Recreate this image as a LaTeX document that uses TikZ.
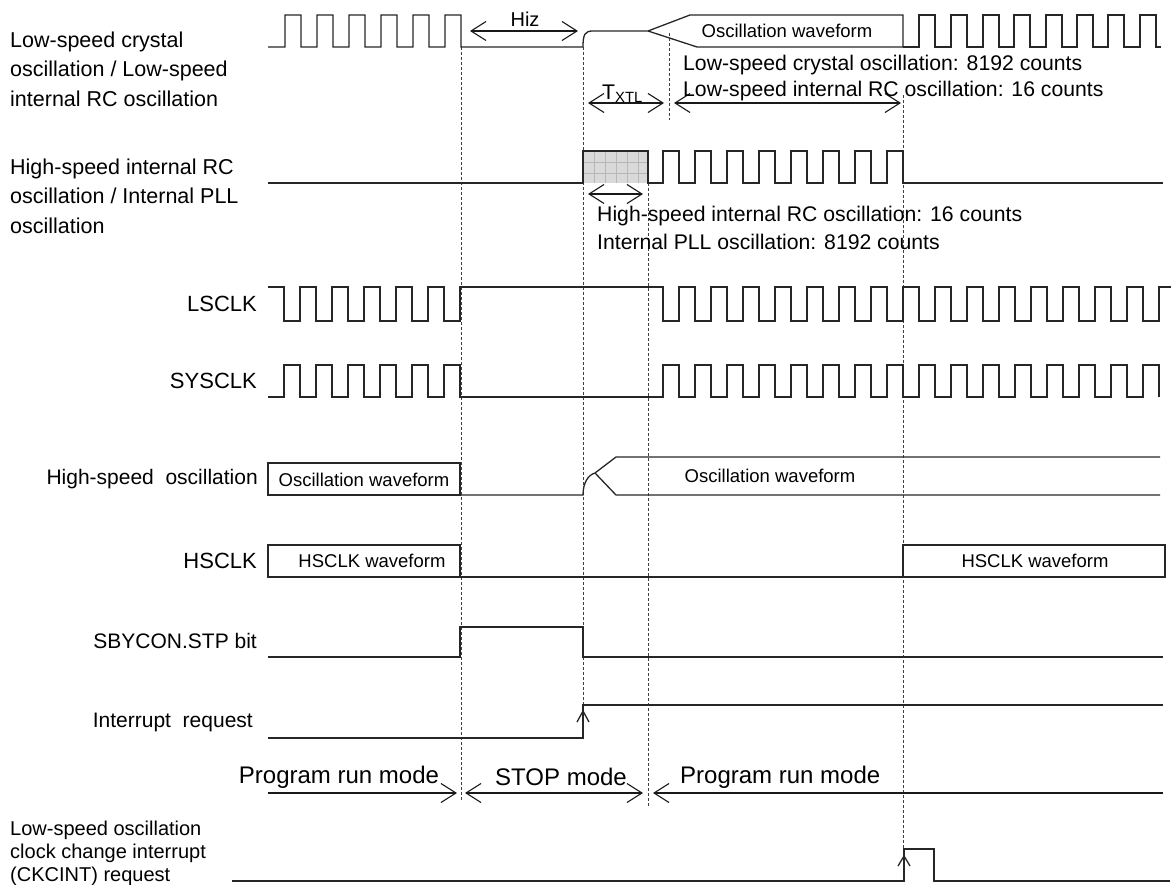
\documentclass[tikz,border=0pt]{standalone}
\usepackage{fontspec}
\setmainfont{Liberation Sans}
\usetikzlibrary{arrows.meta}

\tikzset{
  wave/.style={line width=1.3pt,black!85,line join=miter},
  guide/.style={densely dashed,line width=0.7pt,black!75},
  barb/.tip={Straight Barb[length=15pt,width=19pt,line width=1.1pt]},
  span/.style={line width=1.1pt,black!90},
  lbl/.style={anchor=west,align=left,inner sep=0pt,font=\fontsize{21.5}{29.5}\selectfont},
  sig/.style={anchor=east,inner sep=0pt,font=\fontsize{21}{25}\selectfont},
  note/.style={anchor=west,inner sep=0pt,font=\fontsize{21.2}{25}\selectfont},
  boxtxt/.style={inner sep=0pt,font=\fontsize{18.5}{22}\selectfont},
  modetxt/.style={inner sep=0pt,font=\fontsize{24}{28}\selectfont}
}

\begin{document}
\begin{tikzpicture}[x=1pt,y=-1pt]
\useasboundingbox (0,0) rectangle (1174,885);

% labels
\node[lbl] (lslbl) at (10,69) {Low-speed crystal\\oscillation / Low-speed\\internal RC oscillation};
\node[lbl] (hslbl) at (10,196) {High-speed internal RC\\oscillation / Internal PLL\\oscillation};
\node[sig,font=\fontsize{22}{26}\selectfont] (lsclk) at (257,304) {LSCLK};
\node[sig,font=\fontsize{22}{26}\selectfont] (sysclk) at (257,381) {SYSCLK};
\node[sig] (hsosc) at (258,479) {High-speed\ \ oscillation};
\node[sig,font=\fontsize{22}{26}\selectfont] (hsclk) at (257,561) {HSCLK};
\node[sig] (stp) at (257,641) {SBYCON.STP bit};
\node[sig] (irq) at (253,722) {Interrupt\ \ request};
\node[lbl,font=\fontsize{20}{23}\selectfont] (ckclbl) at (10,853) {Low-speed oscillation\\clock change interrupt\\(CKCINT) request};

% guides
\draw[guide] (461,47) -- (461,800);
\draw[guide] (583,47) -- (583,712);
\draw[guide] (669,33) -- (669,120);
\draw[guide] (648,183) -- (648,807);
\draw[guide] (903,95) -- (903,849);

% low-speed oscillation
\draw[wave] (268,47)
  \foreach \t in {285,317,349,381,413,445} {-- (\t,47) -- (\t,15) -- (\t+16,15) -- (\t+16,47)}
  -- (583,47) .. controls (583,34) and (585,31) .. (593,31) -- (648,31)
  -- (690,15) -- (903,15) -- (903,47) -- (697,47) -- (648,31);
\draw[wave] (903,47)
  \foreach \t in {919,951,983,1014,1046,1077,1108,1140} {-- (\t,47) -- (\t,15) -- (\t+16,15) -- (\t+16,47)}
  -- (1161,47);
\node[boxtxt] (lsosc) at (787,31) {Oscillation waveform};
\draw[span,barb-barb] (470,31) -- (578,31);
\node[modetxt,font=\fontsize{20}{24}\selectfont] (hiz) at (525,19) {Hiz};
\draw[span,barb-barb] (588,103) -- (664,103);
\node[note] (txtl) at (602,94) {T\textsubscript{XTL}};
\draw[span,barb-barb] (674,103) -- (901,103);
\node[note] (lscnt) at (683,65) {Low-speed crystal oscillation: 8192 counts};
\node[note] (rccnt) at (683,91) {Low-speed internal RC oscillation: 16 counts};

% high-speed RC / PLL
\fill[black!15] (583,151) rectangle (648,183);
\foreach \g in {594,605,616,627,638} \draw[black!28,line width=0.5pt] (\g,151) -- (\g,183);
\foreach \g in {162,173} \draw[black!28,line width=0.5pt] (583,\g) -- (648,\g);
\draw[wave] (268,183) -- (583,183) -- (583,151) -- (648,151) -- (648,183)
  \foreach \t in {663,695,727,759,791,823,855,887} {-- (\t,183) -- (\t,151) -- (\t+16,151) -- (\t+16,183)}
  -- (1163,183);
\draw[span,barb-barb] (588,194) -- (643,194);
\node[note] (hscnt) at (597,216) {High-speed internal RC oscillation: 16 counts};
\node[note] (pllcnt) at (597,242) {Internal PLL oscillation: 8192 counts};

% LSCLK
\draw[wave] (268,287)
  \foreach \t in {284,316,348,380,412,444} {-- (\t,287) -- (\t,321) -- (\t+16,321) -- (\t+16,287)}
  \foreach \t in {663,695,...,1143} {-- (\t,287) -- (\t,321) -- (\t+16,321) -- (\t+16,287)}
  -- (1171,287);

% SYSCLK
\draw[wave] (268,397)
  \foreach \t in {284,316,348,380,412,444} {-- (\t,397) -- (\t,365) -- (\t+16,365) -- (\t+16,397)}
  \foreach \t in {663,695,...,1143} {-- (\t,397) -- (\t,365) -- (\t+16,365) -- (\t+16,397)};

% high-speed oscillation
\draw[wave] (268,463) rectangle (460,495);
\node[boxtxt] (hswave) at (364,480) {Oscillation waveform};
\draw[wave] (460,495) -- (583,495) .. controls (583,483) and (588,475) .. (595,473)
  -- (616,457) -- (1160,457);
\draw[wave] (595,473) -- (616,495) -- (1160,495);
\node[boxtxt] (hswave2) at (770,476) {Oscillation waveform};

% HSCLK
\draw[wave] (268,545) rectangle (460,577);
\node[boxtxt] (hsw1) at (372,561) {HSCLK waveform};
\draw[wave] (460,577) -- (903,577);
\draw[wave] (903,545) rectangle (1165,577);
\node[boxtxt] (hsw2) at (1035,561) {HSCLK waveform};

% SBYCON.STP
\draw[wave] (268,657) -- (460,657) -- (460,627) -- (583,627) -- (583,657) -- (1163,657);

% interrupt request
\draw[wave] (268,738) -- (583,738) -- (583,705) -- (1163,705);
\draw[wave] (577,722) -- (583,711) -- (589,722);

% modes
\draw[span,-barb] (268,793) -- (457,793);
\node[modetxt] (run1) at (339,777) {Program run mode};
\draw[span,barb-barb] (465,793) -- (643,793);
\node[modetxt] (stop) at (561,777) {STOP mode};
\draw[span,barb-] (653,793) -- (1163,793);
\node[modetxt,anchor=west] (run2) at (680,777) {Program run mode};

% CKCINT request
\draw[wave] (232,881) -- (904,881) -- (904,849) -- (934,849) -- (934,881) -- (1170,881);
\draw[wave] (898,866) -- (904,856) -- (910,866);
\end{tikzpicture}
\end{document}
